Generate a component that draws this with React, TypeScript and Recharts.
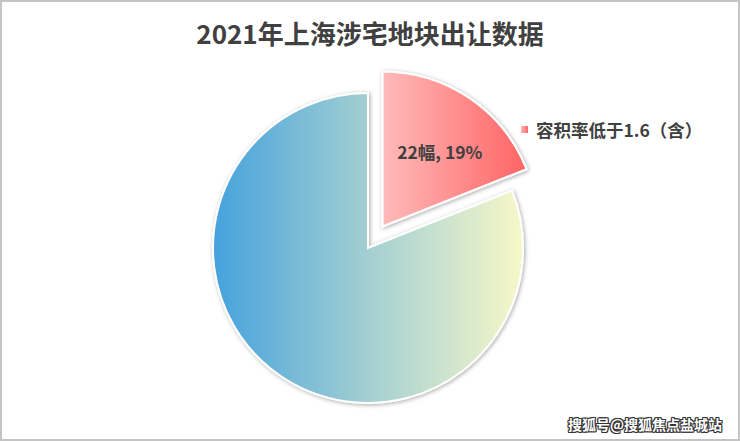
import { PieChart, Pie, Cell } from "recharts";

const categories = ["容积率低于1.6（含）", "容积率高于1.6"];
const counts = [22, 94];
const unit = "幅";
const title = "2021年上海涉宅地块出让数据";
const watermark = "搜狐号@搜狐焦点盐城站";

const data = categories.map((name, i) => ({ name, value: counts[i] }));
const total = counts.reduce((a, b) => a + b, 0);

const W = 740;
const H = 441;
const CX = 368;
const CY = 248;
const R = 155;
const EXPLODE = 26;
const RAD = Math.PI / 180;

// exploded slice moves out along its own bisector (clockwise from 12 o'clock)
const midDeg = 90 - (counts[0] / total) * 180;
const ex = CX + EXPLODE * Math.cos(midDeg * RAD);
const ey = CY - EXPLODE * Math.sin(midDeg * RAD);

const font = '"Noto Sans CJK SC", "Microsoft YaHei", sans-serif';

function renderLabel(props: any) {
  if (props.index !== 0) return null;
  const r = props.outerRadius * 0.6;
  const x = props.cx + r * Math.cos(-props.midAngle * RAD) + 5;
  const y = props.cy + r * Math.sin(-props.midAngle * RAD) + 2;
  const pct = Math.round((props.value / total) * 100);
  return (
    <text x={x} y={y} textAnchor="middle" dominantBaseline="central" fill="#404040"
      fontSize={17.5} fontWeight={700} fontFamily={font}>
      {`${props.value}${unit}, ${pct}%`}
    </text>
  );
}

export default function App() {
  return (
    <div style={{ position: "relative", width: W, height: H, boxSizing: "border-box", border: "2px solid #c4c4c4", background: "#fff" }}>
      <style>{"body{margin:0}"}</style>
      <div style={{ position: "absolute", left: 0, right: 0, top: 12, textAlign: "center", fontFamily: font, fontSize: 26, fontWeight: 700, color: "#404040" }}>
        {title}
      </div>
      <div style={{ position: "absolute", left: -2, top: -2 }}>
        <PieChart width={W} height={H} margin={{ top: 0, right: 0, bottom: 0, left: 0 }}>
          <defs>
            <linearGradient id="bigGrad" x1="0" y1="0" x2="1" y2="0">
              <stop offset="0%" stopColor="#45a2dc" />
              <stop offset="50%" stopColor="#a3cfd2" />
              <stop offset="100%" stopColor="#f7f8c8" />
            </linearGradient>
            <linearGradient id="smallGrad" x1="0" y1="0" x2="1" y2="0">
              <stop offset="0%" stopColor="#ffbaba" />
              <stop offset="100%" stopColor="#ff6464" />
            </linearGradient>
            <filter id="shadow" x="-20%" y="-20%" width="140%" height="140%">
              <feDropShadow dx="1" dy="1" stdDeviation="2.2" floodColor="#000" floodOpacity="0.35" />
            </filter>
          </defs>
          <Pie data={data} dataKey="value" nameKey="name" cx={CX} cy={CY} outerRadius={R}
            startAngle={90} endAngle={-270} stroke="#fff" strokeWidth={2}
            isAnimationActive={false} legendType="none">
            {data.map((d, i) => (
              <Cell key={d.name} fill={i === 1 ? "url(#bigGrad)" : "none"} stroke={i === 1 ? "#fff" : "none"}
                filter={i === 1 ? "url(#shadow)" : undefined} />
            ))}
          </Pie>
          <Pie data={data} dataKey="value" nameKey="name" cx={ex} cy={ey} outerRadius={R}
            startAngle={90} endAngle={-270} stroke="#fff" strokeWidth={2}
            label={renderLabel} labelLine={false}
            isAnimationActive={false} legendType="none">
            {data.map((d, i) => (
              <Cell key={d.name} fill={i === 0 ? "url(#smallGrad)" : "none"} stroke={i === 0 ? "#fff" : "none"}
                filter={i === 0 ? "url(#shadow)" : undefined} />
            ))}
          </Pie>
        </PieChart>
      </div>
      <div style={{ position: "absolute", left: 519, top: 115, display: "flex", alignItems: "center", fontFamily: font, fontSize: 17.5, fontWeight: 700, color: "#404040" }}>
        <span style={{ width: 7, height: 7, background: "linear-gradient(to right, #ffb8b8, #ff6868)", marginRight: 8 }} />
        {categories[0]}
      </div>
      <div style={{ position: "absolute", right: 16, bottom: 5, fontFamily: font, fontSize: 14, fontWeight: 700, color: "#fff",
        textShadow: "1px 0 0 #333, -1px 0 0 #333, 0 1px 0 #333, 0 -1px 0 #333, 1px 1px 0 #333, -1px -1px 0 #333, 1px -1px 0 #333, -1px 1px 0 #333" }}>
        {watermark}
      </div>
    </div>
  );
}
